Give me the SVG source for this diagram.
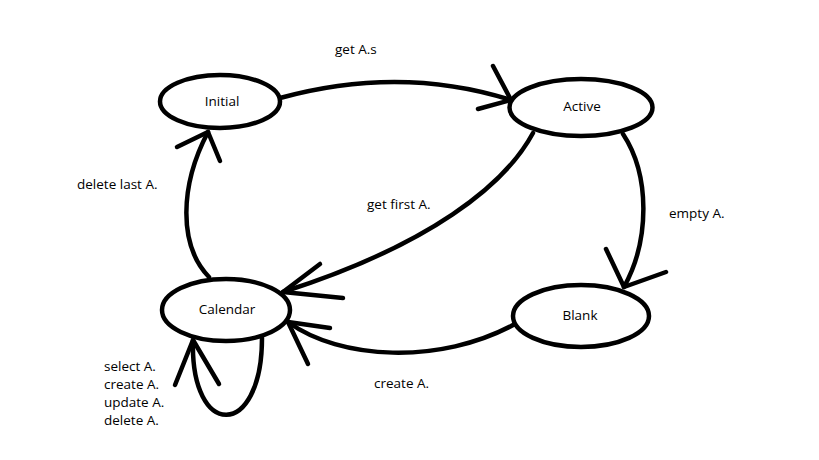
<svg xmlns="http://www.w3.org/2000/svg" width="819" height="460" viewBox="0 0 819 460">
<style>
.node{fill:#fff;stroke:#000;stroke-width:4.5}
.e{fill:none;stroke:#000;stroke-width:4.5;stroke-linecap:round;stroke-linejoin:round}
text{font-family:"Open Sans","Noto Sans","Liberation Sans",sans-serif;font-size:13.5px;fill:#000}
.c{text-anchor:middle}
</style>
<rect width="819" height="460" fill="#fff"/>
<g id="connectors">
<path class="e" d="M280 98 Q400 65 511 100"/>
<path class="e" d="M493 66 L511 100 L478 109"/>
<path class="e" d="M533 133 C505 185 430 245 283 292"/>
<path class="e" d="M320 264 L283 292 L343 298"/>
<path class="e" d="M623 134 C650 175 650 240 624 287"/>
<path class="e" d="M606 249 L624 287 L666 272"/>
<path class="e" d="M515 324 C440 365 340 360 288 322"/>
<path class="e" d="M330 328 L288 322 L308 364"/>
<path class="e" d="M209 277 C178 245 180 185 208 132"/>
<path class="e" d="M177 147 L208 132 L220 161"/>
<path class="e" d="M262 338 C262 440 190 440 193 340"/>
<path class="e" d="M175 385 L193 340 L219 384"/>
</g>
<g id="node-initial">
<ellipse class="node" cx="220" cy="101.5" rx="60" ry="26.5"/>
<text class="c" x="222" y="106">Initial</text>
</g>
<g id="node-active">
<ellipse class="node" cx="581" cy="107.5" rx="71.5" ry="28.5"/>
<text class="c" x="582" y="111">Active</text>
</g>
<g id="node-blank">
<ellipse class="node" cx="581" cy="316" rx="68" ry="31"/>
<text class="c" x="580" y="320">Blank</text>
</g>
<g id="node-calendar">
<ellipse class="node" cx="226" cy="310" rx="64" ry="31"/>
<text class="c" x="227" y="314">Calendar</text>
</g>
<g id="labels">
<text x="335" y="54">get A.s</text>
<text x="367" y="209">get first A.</text>
<text x="669" y="218">empty A.</text>
<text x="374" y="388">create A.</text>
<text x="77" y="189">delete last A.</text>
<text x="104" y="371">select A.</text>
<text x="104" y="389">create A.</text>
<text x="104" y="407">update A.</text>
<text x="104" y="425">delete A.</text>
</g>
</svg>
